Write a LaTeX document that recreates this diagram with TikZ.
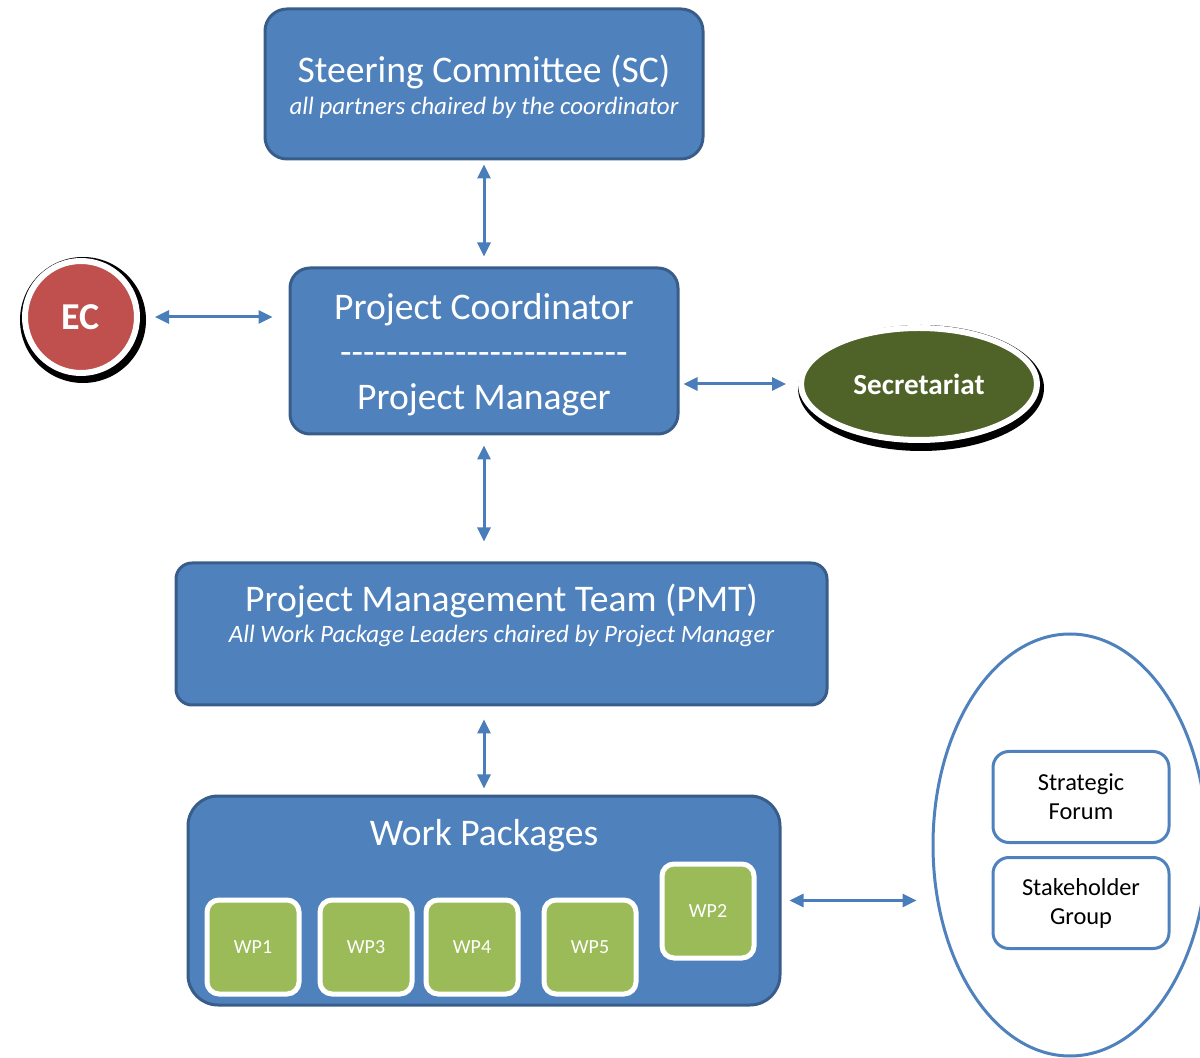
\documentclass[tikz,border=0pt]{standalone}
\usepackage{fontspec}
\setmainfont{Carlito}
\usetikzlibrary{shapes.geometric,arrows.meta,calc}
\definecolor{boxblue}{HTML}{4F81BD}
\definecolor{boxborder}{HTML}{385D8A}
\definecolor{arrowblue}{HTML}{4A7EBB}
\definecolor{ecred}{HTML}{C0504D}
\definecolor{secgreen}{HTML}{4F6228}
\definecolor{wpgreen}{HTML}{9BBB59}
\newcommand\hyp{\mbox{-}}
\newcommand\hypfive{\hyp\hyp\hyp\hyp\hyp}
\begin{document}
\begin{tikzpicture}[x=0.5pt,y=-0.5pt,
  bluebox/.style={draw=boxborder, line width=1.5pt, fill=boxblue, inner sep=0pt},
  arr/.style={{Triangle[length=7pt,width=6.5pt]}-{Triangle[length=7pt,width=6.5pt]}, line width=1.5pt, draw=arrowblue},
  wpbox/.style={draw=white, line width=2.5pt, fill=wpgreen, rounded corners=6pt, minimum width=46pt, minimum height=47pt, inner sep=0pt, text=white, font=\fontsize{10}{12}\selectfont},
  title/.style={text=white, font=\fontsize{18.8}{22}\selectfont, inner sep=0pt},
  subtitle/.style={text=white, font=\fontsize{12.5}{15}\selectfont\itshape, inner sep=0pt},
  sidebox/.style={draw=boxblue, line width=1.5pt, fill=white, rounded corners=8pt, minimum width=88pt, minimum height=45.5pt, align=center, inner sep=0pt, font=\fontsize{12.2}{14.5}\selectfont}
]
\useasboundingbox (0,0) rectangle (1200,1058);
\clip (0,0) rectangle (1200,1058);

% Steering Committee
\node[bluebox, rounded corners=11pt, minimum width=219pt, minimum height=75pt] (sc) at (484,84) {};
\node[title] (sct) at (484,72) {Steering Committee (SC)};
\node[subtitle] (scs) at (484,108) {all partners chaired by the coordinator};

% Project Coordinator
\node[bluebox, rounded corners=10pt, minimum width=194pt, minimum height=83pt] (pc) at (484,351) {};
\node[title] (pct) at (484,310) {Project Coordinator};
\node[title] (pcd) at (484,359) {\hypfive\hypfive\hypfive\hypfive\hypfive};
\node[title] (pcm) at (484,400) {Project Manager};

% EC
\node[circle, fill=black, minimum size=63pt, inner sep=0pt] (ecs) at (83,320) {};
\node[circle, fill=ecred, draw=white, line width=3pt, minimum size=56pt, inner sep=0pt, text=white, font=\fontsize{19}{21}\selectfont\bfseries] (ec) at (81,317) {EC};

% Secretariat
\node[ellipse, fill=black, minimum width=123pt, minimum height=63pt, inner sep=0pt] (secs) at (921,388) {};
\node[ellipse, fill=secgreen, draw=white, line width=3pt, minimum width=118pt, minimum height=56pt, inner sep=0pt, text=white, font=\fontsize{14.6}{17}\selectfont\bfseries] (sec) at (919,384) {Secretariat};

% PMT
\node[bluebox, rounded corners=8pt, minimum width=325.5pt, minimum height=71pt] (pmt) at (501.5,634) {};
\node[title] (pmtt) at (501.5,601) {Project Management Team (PMT)};
\node[subtitle] (pmts) at (501.5,636) {All Work Package Leaders chaired by Project Manager};

% Work packages
\node[bluebox, rounded corners=15pt, minimum width=296pt, minimum height=104.5pt] (wp) at (484,900.5) {};
\node[title] (wpt) at (484,836) {Work Packages};
\node[wpbox] (wp1) at (253,947) {WP1};
\node[wpbox] (wp3) at (366,947) {WP3};
\node[wpbox] (wp4) at (472,947) {WP4};
\node[wpbox] (wp5) at (590,947) {WP5};
\node[wpbox] (wp2) at (708,911) {WP2};

% Right ellipse
\node[ellipse, draw=boxblue, line width=1.5pt, minimum width=137pt, minimum height=211pt, inner sep=0pt] (rell) at (1070,845) {};
\node[sidebox] (sf) at (1081,797) {Strategic\\Forum};
\node[sidebox] (sg) at (1081,903) {Stakeholder\\Group};

% Arrows
\draw[arr] ([yshift=-2pt]sc.south) -- ([yshift=5pt]pc.north);
\draw[arr] ([xshift=7.5pt]ec.east) -- ([xshift=-8pt]pc.west |- ec.east);
\draw[arr] ([xshift=2pt]pc.east |- sec.west) -- ([xshift=-6pt]sec.west);
\draw[arr] ([yshift=-5pt]pc.south) -- ([yshift=10pt]pc.south |- pmt.north);
\draw[arr] ([yshift=-6.5pt]pc.south |- pmt.south) -- ([yshift=3pt]wp.north);
\draw[arr] ([xshift=4pt]wp.east) -- ([xshift=-7.5pt]wp.east -| rell.west);
\end{tikzpicture}
\end{document}
